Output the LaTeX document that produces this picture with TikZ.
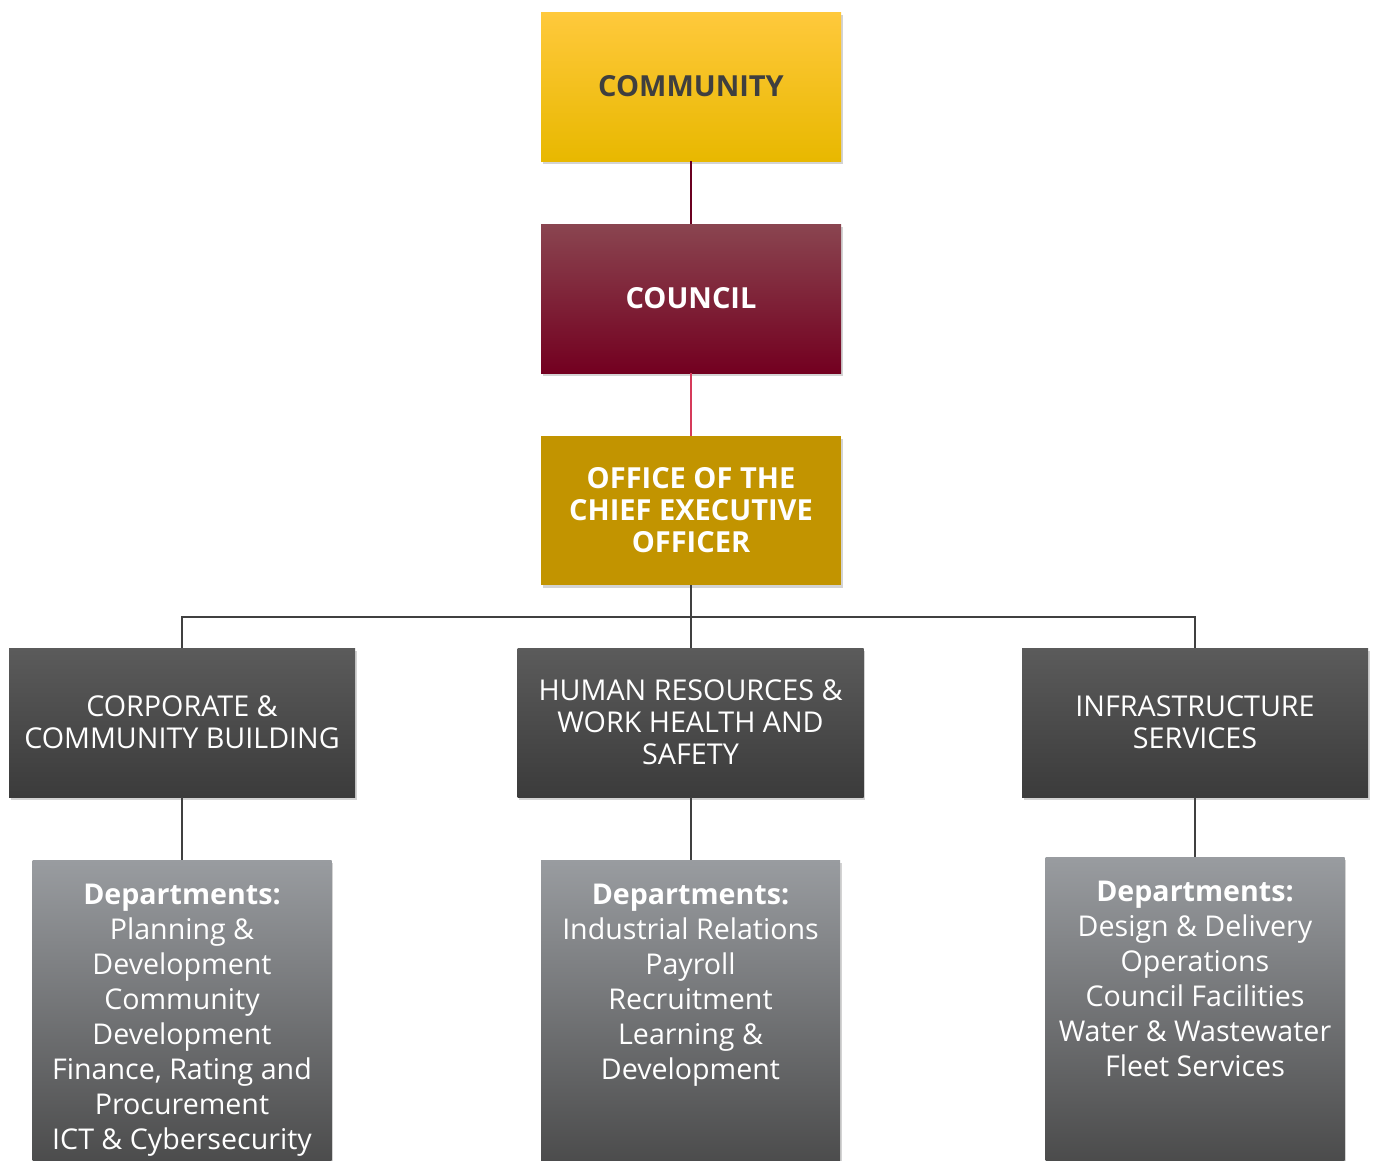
\documentclass[tikz,border=0pt]{standalone}
\usepackage{fontspec}
\setmainfont{Open Sans}
\usetikzlibrary{shadows}
\definecolor{yTop}{HTML}{FFC93C}
\definecolor{yMid}{HTML}{FFCA05}
\definecolor{yBot}{HTML}{E8B800}
\definecolor{rTop}{HTML}{8A4550}
\definecolor{rMid}{HTML}{7A0022}
\definecolor{rBot}{HTML}{730020}
\definecolor{gold}{HTML}{C29400}
\definecolor{dTop}{HTML}{5B5B5B}
\definecolor{dBot}{HTML}{3B3B3B}
\definecolor{lTop}{HTML}{999CA0}
\definecolor{lBot}{HTML}{464646}
\definecolor{txtdark}{HTML}{3F3F3F}
\definecolor{lineA}{HTML}{6B0020}
\definecolor{lineB}{HTML}{D63A5A}
\definecolor{lineC}{HTML}{404040}
\begin{document}
\begin{tikzpicture}[x=1pt,y=-1pt,
  box/.style={rectangle, inner sep=0pt, align=center,
    drop shadow={opacity=0.35, shadow xshift=1.5pt, shadow yshift=-2.5pt}},
  topbox/.style={box, minimum width=300pt, minimum height=149pt,
    font=\fontsize{29}{32}\selectfont\bfseries},
  midbox/.style={box, minimum width=346pt, minimum height=149pt,
    top color=dTop, bottom color=dBot, text=white,
    font=\fontsize{28.7}{32}\selectfont},
  deptbox/.style={box, minimum width=299pt, minimum height=324pt,
    top color=lTop, bottom color=lBot},
  depttext/.style={anchor=north, inner sep=0pt, align=center, text=white,
    font=\fontsize{28.6}{35}\selectfont},
  conn/.style={draw=lineC, line width=2pt}
]
\useasboundingbox (0,0) rectangle (1375,1160);
\clip (0,0) rectangle (1375,1160);

\node[topbox, top color=yTop, middle color=yMid, bottom color=yBot, text=txtdark]
  (community) at (691,86.5) {COMMUNITY};
\node[topbox, top color=rTop, middle color=rMid, bottom color=rBot, text=white]
  (council) at (691,298.5) {COUNCIL};
\node[topbox, fill=gold, text=white]
  (office) at (691,510.5) {OFFICE OF THE\\CHIEF EXECUTIVE\\OFFICER};

\node[midbox] (corp) at (182,722.5) {CORPORATE \&\\COMMUNITY BUILDING};
\node[midbox] (hr) at (690.5,722.5) {HUMAN RESOURCES \&\\WORK HEALTH AND\\SAFETY};
\node[midbox] (infra) at (1195,722.5) {INFRASTRUCTURE\\SERVICES};

\node[deptbox] (corpdept) at (182,1022) {};
\node[deptbox] (hrdept) at (690.5,1022) {};
\node[deptbox] (infradept) at (1195,1019) {};

\node[depttext] (corptext) at ([yshift=-24pt]corpdept.north)
  {\textbf{Departments:}\\Planning \&\\Development\\Community\\Development\\Finance, Rating and\\Procurement\\ICT \& Cybersecurity};
\node[depttext] (hrtext) at ([yshift=-24pt]hrdept.north)
  {\textbf{Departments:}\\Industrial Relations\\Payroll\\Recruitment\\Learning \&\\Development};
\node[depttext] (infratext) at ([yshift=-24pt]infradept.north)
  {\textbf{Departments:}\\Design \& Delivery\\Operations\\Council Facilities\\Water \& Wastewater\\Fleet Services};

\coordinate (busy) at (0,617);
\draw[draw=lineA, line width=2pt] (community) -- (council);
\draw[draw=lineB, line width=2pt] (council) -- (office);
\draw[conn] (office.south) -- (office.south |- busy);
\draw[conn] (corp.north) |- (infra.north |- busy) -- (infra.north);
\draw[conn] (hr.north) -- (hr.north |- busy);
\draw[conn] (corp) -- (corpdept);
\draw[conn] (hr) -- (hrdept);
\draw[conn] (infra) -- (infradept);
\end{tikzpicture}
\end{document}
